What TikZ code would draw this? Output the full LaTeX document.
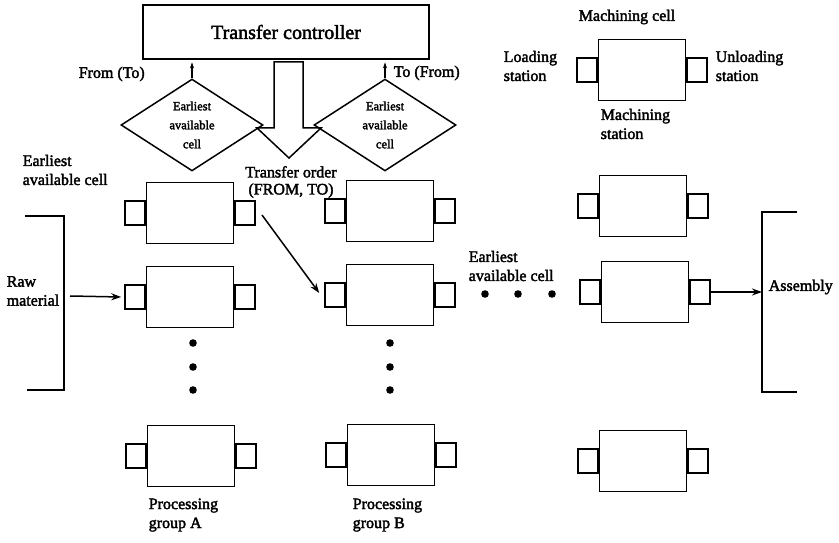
\documentclass[tikz,border=0pt]{standalone}
\usepackage{fontspec}
\setmainfont{Liberation Serif}[FakeBold=2.2]
\usetikzlibrary{shapes.geometric,arrows.meta,calc}
\tikzset{
  cellbox/.style={draw,minimum width=87pt,minimum height=61pt,inner sep=0pt},
  port/.style={draw,minimum width=20pt,minimum height=24pt,inner sep=0pt},
  lbl/.style={font=\fontsize{16}{19}\selectfont,align=left,inner sep=0pt,anchor=west},
  choice/.style={draw,diamond,minimum width=142pt,minimum height=76pt,inner sep=0pt,align=center,font=\fontsize{12.5}{19}\selectfont}
}

\begin{document}
\begin{tikzpicture}[x=1pt,y=-1pt,line width=1.5pt,>={Stealth[length=10pt,width=7pt]}]
\fill[white] (0,0) rectangle (839,543);
\useasboundingbox (0,0) rectangle (839,543);
% controller and the two decisions
\node[draw,minimum width=286pt,minimum height=54pt,font=\fontsize{20}{24}\selectfont] (ctrl) at (286,32) {Transfer controller};
\node[choice] (dl) at (192,125) {Earliest\\available\\cell};
\node[choice] (dr) at (385,125) {Earliest\\available\\cell};
\draw[->,>={Stealth[length=6pt,width=4pt]}] (dl.north) -- ++(0,-16);
\draw[->,>={Stealth[length=6pt,width=4pt]}] (dr.north) -- ++(0,-16);
\node[lbl] (from) at (78,74) {From (To)};
\node[lbl] (to) at (393,73) {To (From)};
% transfer order (hollow arrow)
\draw (274,62) -- (303,62) -- (303,128) -- (321,128) -- (289,158) -- (257,128) -- (274,128) -- cycle;
\node[lbl,anchor=center,align=center,font=\fontsize{16}{17}\selectfont] (order) at (291,182) {Transfer order\\(FROM, TO)};

% cells
\foreach \n/\x/\y in {A1/190/213,A2/190/297,A3/191/456,B1/390/211,B2/390/295,B3/391/455,C1/643/206,C2/645/292,C3/643/461,M/642/70}{
  \node[cellbox] (c\n) at (\x,\y) {};
  \node[port,anchor=east] (l\n) at (c\n.west) {};
  \node[port,anchor=west] (r\n) at (c\n.east) {};
}
\node[lbl,anchor=center] (mcell) at (627,17) {Machining cell};
\node[lbl] (load) at (503,66) {Loading\\station};
\node[lbl] (unload) at (715,66) {Unloading\\station};
\node[lbl] (mst) at (600,124) {Machining\\station};

% dots
\foreach \y in {343,367,390}{
  \fill (193,\y) circle (3.8pt);
  \fill (390,\y) circle (3.8pt);
}
\foreach \x in {485,518,552} \fill (\x,294) circle (3.8pt);

% raw material
\draw (25,216) -- (64,216) -- (64,390) -- (27,390);
\node[lbl] (raw) at (6,291) {Raw\\material};
\coordinate (rawout) at (70,296);
\draw[->] (rawout) -- ([xshift=-3pt]lA2.west);

% transfer order to group B
\coordinate (ordfrom) at (262,215);
\draw[->] (ordfrom) -- ([xshift=-5pt,yshift=2pt]lB2.west);

% assembly
\draw (797,212) -- (762,212) -- (762,392) -- (797,392);
\coordinate (asm) at (762,287);
\draw[->] (rC2.east) -- (rC2.east -| asm);
\node[lbl] (assy) at (768,287) {Assembly};

\node[lbl] (eacA) at (22,170) {Earliest\\available cell};
\node[lbl] (eacB) at (468,266) {Earliest\\available cell};
\node[lbl] (pgA) at (148,515) {Processing\\group A};
\node[lbl] (pgB) at (352,515) {Processing\\group B};
\end{tikzpicture}
\end{document}
